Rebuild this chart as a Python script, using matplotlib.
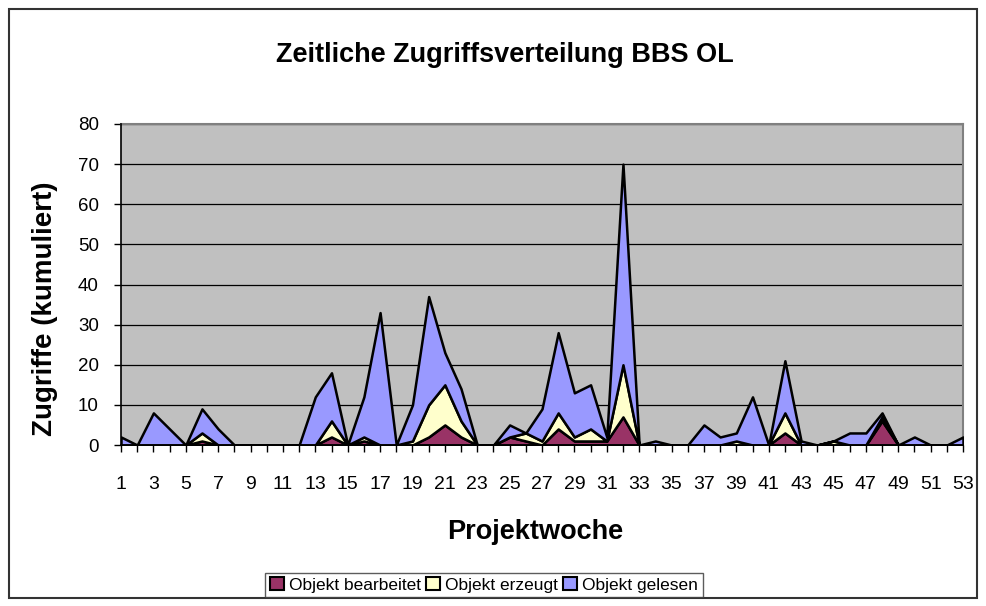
import numpy as np
import matplotlib.pyplot as plt
from matplotlib.patches import Rectangle

plt.rcParams['font.family'] = ['Liberation Sans', 'DejaVu Sans']

weeks = list(range(1, 54))

# Zugriffe je Projektwoche (nicht kumuliert, je Serie)
bearbeitet = [0, 0, 0, 0, 0, 1, 0, 0, 0, 0,
              0, 0, 0, 2, 0, 1, 0, 0, 0, 2,
              5, 2, 0, 0, 2, 1, 0, 4, 1, 1,
              1, 7, 0, 0, 0, 0, 0, 0, 0, 0,
              0, 3, 0, 0, 0, 0, 0, 6, 0, 0,
              0, 0, 0]
erzeugt = [0, 0, 0, 0, 0, 2, 0, 0, 0, 0,
           0, 0, 0, 4, 0, 1, 0, 0, 1, 8,
           10, 4, 0, 0, 0, 2, 1, 4, 1, 3,
           0, 13, 0, 0, 0, 0, 0, 0, 1, 0,
           0, 5, 0, 0, 1, 0, 0, 1, 0, 0,
           0, 0, 0]
gelesen = [2, 0, 8, 4, 0, 6, 4, 0, 0, 0,
           0, 0, 12, 12, 0, 10, 33, 0, 9, 27,
           8, 8, 0, 0, 3, 0, 8, 20, 11, 11,
           1, 50, 0, 1, 0, 0, 5, 2, 2, 12,
           0, 13, 1, 0, 0, 3, 3, 1, 0, 2,
           0, 0, 2]

series_names = ['Objekt bearbeitet', 'Objekt erzeugt', 'Objekt gelesen']
colors = ['#993366', '#FFFFCC', '#9999FF']

fig = plt.figure(figsize=(9.86, 6.06), dpi=100)
fig.patches.append(Rectangle((9 / 986, 8 / 606), 968 / 986, 589 / 606,
                             transform=fig.transFigure, fill=False,
                             edgecolor='#333333', linewidth=1.5))

ax = fig.add_axes([121 / 986, 1 - 445 / 606, 842 / 986, 321 / 606])
ax.set_facecolor('#C0C0C0')

ax.stackplot(weeks, bearbeitet, erzeugt, gelesen, colors=colors,
             edgecolor='black', linewidth=1.8, labels=series_names, zorder=3)

ax.set_xlim(1, 53)
ax.set_ylim(0, 80)
ax.set_yticks(range(0, 81, 10))
ax.set_xticks(weeks)
ax.set_xticklabels([str(w) if w % 2 == 1 else '' for w in weeks])
ax.yaxis.grid(True, color='black', linewidth=0.9)
ax.set_axisbelow(True)
ax.tick_params(axis='both', direction='out', length=5, width=1, color='black')
ax.tick_params(axis='x', labelsize=14, pad=17)
ax.tick_params(axis='y', labelsize=13.5, pad=11)

for s in ['top', 'right']:
    ax.spines[s].set_color('#808080')
    ax.spines[s].set_linewidth(1.5)
for s in ['left', 'bottom']:
    ax.spines[s].set_color('black')
    ax.spines[s].set_linewidth(1.2)
    ax.spines[s].set_zorder(5)

fig.text(505 / 986, 1 - 55 / 606, 'Zeitliche Zugriffsverteilung BBS OL',
         ha='center', va='center', fontsize=19.5, fontweight='bold')
fig.text(535 / 986, 1 - 532 / 606, 'Projektwoche',
         ha='center', va='center', fontsize=19.5, fontweight='bold')
fig.text(45 / 986, 1 - 309 / 606, 'Zugriffe (kumuliert)', rotation=90,
         ha='center', va='center', fontsize=20, fontweight='bold')

handles = [Rectangle((0, 0), 1, 1, facecolor=c, edgecolor='black', linewidth=1.5)
           for c in colors]
leg = fig.legend(handles, series_names, loc='center', ncol=3,
                 bbox_to_anchor=(484 / 986, 1 - 585 / 606), fontsize=12.5,
                 frameon=True, fancybox=False, handlelength=0.8,
                 handleheight=0.8, handletextpad=0.3, columnspacing=0.3,
                 borderpad=0.25, borderaxespad=0)
leg.get_frame().set_edgecolor('#333333')
leg.get_frame().set_linewidth(1.0)

fig.savefig('out.png', dpi=100)
